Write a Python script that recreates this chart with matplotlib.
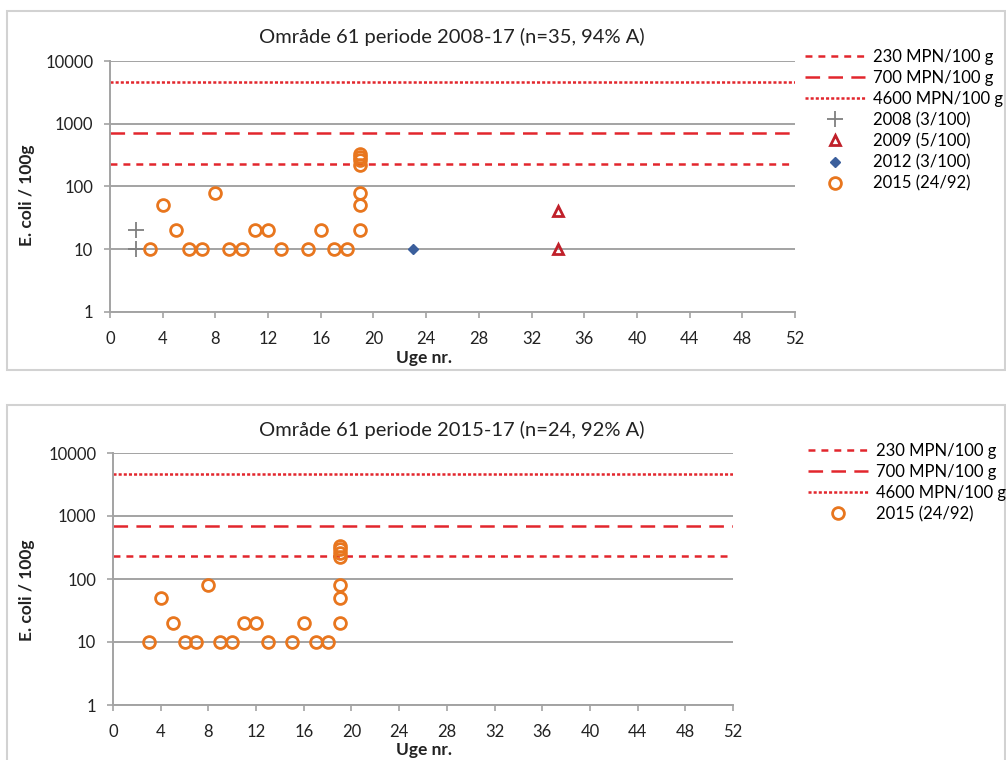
#!/usr/bin/env python3
import matplotlib
matplotlib.use("Agg")
import matplotlib.pyplot as plt
from matplotlib.patches import Rectangle

plt.rcParams["font.family"] = ["Lato", "DejaVu Sans"]
plt.rcParams["lines.scale_dashes"] = False

# data
weeks_2015 = [3, 4, 5, 6, 7, 8, 9, 10, 11, 12, 13, 15, 16, 17, 18,
              19, 19, 19, 19, 19, 19, 19]
ecoli_2015 = [10, 50, 20, 10, 10, 80, 10, 10, 20, 20, 10, 10, 20, 10, 10,
              20, 50, 80, 220, 260, 300, 330]
weeks_2008 = [2, 2]
ecoli_2008 = [10, 20]
weeks_2009 = [34, 34]
ecoli_2009 = [10, 40]
weeks_2012 = [23]
ecoli_2012 = [10]

limits = [230, 700, 4600]
limit_labels = ["230 MPN/100 g", "700 MPN/100 g", "4600 MPN/100 g"]
limit_styles = [(0, (5, 4.3)), (0, (10.5, 6)), (0, (2.2, 1.5))]

titles = ["Område 61 periode 2008-17 (n=35, 94% A)",
          "Område 61 periode 2015-17 (n=24, 92% A)"]

RED = "#e2262d"
ORANGE = "#e8761e"
GRID = "#a3a3a3"

fig = plt.figure(figsize=(10.06, 7.6), dpi=100)

# panel frames
fig.patches.append(Rectangle((7 / 1006, 1 - 370 / 760), 998 / 1006, 359 / 760,
                             transform=fig.transFigure, fill=False,
                             edgecolor="#d2d2d2", lw=1.5))
fig.patches.append(Rectangle((7 / 1006, -0.01), 998 / 1006, 1 - 405 / 760 + 0.01,
                             transform=fig.transFigure, fill=False,
                             edgecolor="#d2d2d2", lw=1.5))

ax1 = fig.add_axes([110 / 1006, 1 - 312 / 760, 685 / 1006, 251 / 760])
ax2 = fig.add_axes([113 / 1006, 1 - 705 / 760, 620 / 1006, 252 / 760])


def setup(ax):
    ax.set_yscale("log")
    ax.set_ylim(1, 10000)
    ax.set_xlim(0, 52)
    ax.set_xticks(range(0, 53, 4))
    ax.set_yticks([1, 10, 100, 1000, 10000])
    ax.set_yticklabels(["1", "10", "100", "1000", "10000"])
    ax.minorticks_off()
    ax.yaxis.grid(True, color=GRID, lw=1.4)
    ax.set_axisbelow(True)
    for s in ["top", "right"]:
        ax.spines[s].set_visible(False)
    for s in ["left", "bottom"]:
        ax.spines[s].set_color(GRID)
        ax.spines[s].set_linewidth(1.4)
    ax.tick_params(axis="x", length=4, width=1.2, color=GRID, pad=10,
                   labelsize=12, labelcolor="#222222")
    ax.tick_params(axis="y", length=4, width=1.2, color=GRID, pad=8,
                   labelsize=12, labelcolor="#222222")


def draw_limits(ax):
    handles = []
    for v, lab, ls in zip(limits, limit_labels, limit_styles):
        h = ax.axhline(v, color=RED, lw=1.8, linestyle=ls, label=lab)
        handles.append(h)
    return handles


setup(ax1)
h_lim = draw_limits(ax1)
h08, = ax1.plot(weeks_2008, ecoli_2008, "+", color="#7f7f7f", ms=12, mew=1.3,
                label="2008 (3/100)")
h09, = ax1.plot(weeks_2009, ecoli_2009, "^", mfc="none", mec="#c0202a", ms=7,
                mew=2, label="2009 (5/100)")
h12, = ax1.plot(weeks_2012, ecoli_2012, "D", color="#3b5f9c", ms=5,
                label="2012 (3/100)")
h15, = ax1.plot(weeks_2015, ecoli_2015, "o", mfc="none", mec=ORANGE, ms=8.5,
                mew=2, label="2015 (24/92)")
fig.legend(handles=h_lim + [h08, h09, h12, h15], loc="upper left",
           bbox_to_anchor=(805 / 1006, 1 - 49 / 760), frameon=False,
           fontsize=12, handlelength=3.6, handletextpad=0.5,
           labelspacing=0.3, borderpad=0, borderaxespad=0)

setup(ax2)
h_lim2 = draw_limits(ax2)
h15b, = ax2.plot(weeks_2015, ecoli_2015, "o", mfc="none", mec=ORANGE, ms=8.5,
                 mew=2, label="2015 (24/92)")
fig.legend(handles=h_lim2 + [h15b], loc="upper left",
           bbox_to_anchor=(808 / 1006, 1 - 443 / 760), frameon=False,
           fontsize=12, handlelength=3.6, handletextpad=0.5,
           labelspacing=0.3, borderpad=0, borderaxespad=0)

# titles and axis labels
fig.text(452 / 1006, 1 - 37 / 760, titles[0], ha="center", va="center",
         fontsize=14.5, color="#222222")
fig.text(452 / 1006, 1 - 430 / 760, titles[1], ha="center", va="center",
         fontsize=14.5, color="#222222")
for yc in [195, 590]:
    fig.text(27 / 1006, 1 - yc / 760, "E. coli / 100g", rotation=90,
             ha="center", va="center", fontsize=12.5, fontweight="bold",
             color="#222222")
for yc in [358, 750]:
    fig.text(424 / 1006, 1 - yc / 760, "Uge nr.", ha="center", va="center",
             fontsize=12.5, fontweight="bold", color="#222222")

fig.savefig("out.png", dpi=100)
